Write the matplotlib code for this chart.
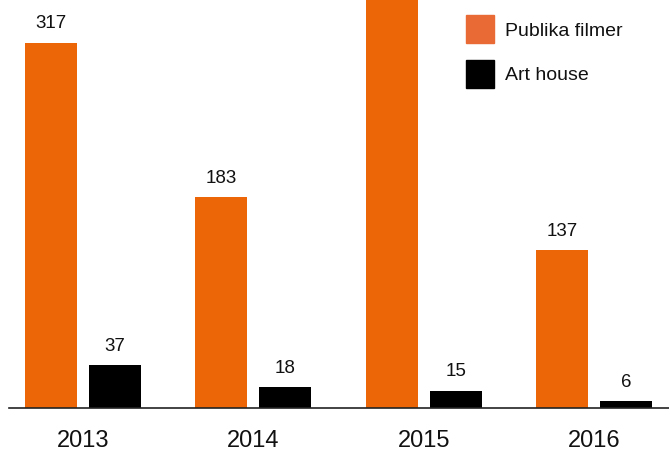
import numpy as np
import matplotlib.pyplot as plt
from matplotlib.patches import Rectangle

plt.rcParams['font.family'] = ['Liberation Sans', 'DejaVu Sans']

years = ['2013', '2014', '2015', '2016']
publika = [317, 183, 400, 137]   # 2015 bar runs off the top, value guessed
arthouse = [37, 18, 15, 6]

bar_col = '#EC6608'
legend_col = '#E96A35'
ytop = 354.2

fig = plt.figure(figsize=(6.69, 4.51), dpi=100)
ax = fig.add_axes([9 / 669, 43 / 451, 660 / 669, 408 / 451])

x = np.arange(len(years))
w = 0.305
off = 0.1877

b1 = ax.bar(x - off, publika, w, color=bar_col, label='Publika filmer')
b2 = ax.bar(x + off, arthouse, w, color='black', label='Art house')

for bars, vals in [(b1, publika), (b2, arthouse)]:
    for b, v in zip(bars, vals):
        if v > ytop:
            continue  # label would sit above the frame
        ax.annotate(str(v), (b.get_x() + b.get_width() / 2, v),
                    xytext=(0, 7.5), textcoords='offset points',
                    ha='center', va='bottom', fontsize=13.5, color='#111111')

ax.set_xlim(-0.434, 3.437)
ax.set_ylim(0, ytop)
ax.set_xticks(x)
ax.set_xticklabels(years, fontsize=17, color='#111111')
ax.tick_params(axis='x', length=0, pad=16)
ax.set_yticks([])
for s in ['top', 'right', 'left']:
    ax.spines[s].set_visible(False)
ax.spines['bottom'].set_color('#222222')
ax.spines['bottom'].set_linewidth(1.2)

# legend drawn by hand in figure pixels
H = 451
for i, (lab, col) in enumerate([('Publika filmer', legend_col), ('Art house', 'black')]):
    top = 15 + i * 45
    fig.patches.append(Rectangle((466 / 669, (H - top - 28) / H), 28 / 669, 28 / H,
                                 transform=fig.transFigure, color=col))
    fig.text(505 / 669, (H - top - 16) / H, lab, fontsize=14,
             va='center', ha='left', color='#111111')

fig.savefig('out.png', dpi=100)
